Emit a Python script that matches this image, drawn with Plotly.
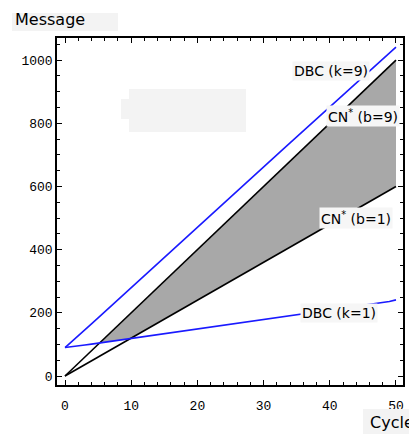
import numpy as np
import plotly.graph_objects as go

# ---- data ----
cycles = list(range(0, 51))
cn_b9 = [0, 20, 40, 60, 80, 100, 120, 140, 160, 180, 200, 220, 240, 260, 280, 300, 320, 340, 360, 380,
         400, 420, 440, 460, 480, 500, 520, 540, 560, 580, 600, 620, 640, 660, 680, 700, 720, 740, 760, 780,
         800, 820, 840, 860, 880, 900, 920, 940, 960, 980, 1000]
cn_b1 = [0, 12, 24, 36, 48, 60, 72, 84, 96, 108, 120, 132, 144, 156, 168, 180, 192, 204, 216, 228,
         240, 252, 264, 276, 288, 300, 312, 324, 336, 348, 360, 372, 384, 396, 408, 420, 432, 444, 456, 468,
         480, 492, 504, 516, 528, 540, 552, 564, 576, 588, 600]
dbc_k9 = [90, 108, 127, 146, 165, 184, 203, 222, 241, 260, 280, 299, 318, 337, 356, 375, 394, 413, 432, 451,
          471, 490, 509, 528, 547, 566, 585, 604, 623, 642, 662, 681, 700, 719, 738, 757, 776, 795, 814, 833,
          852, 871, 890, 909, 928, 947, 966, 985, 1004, 1023, 1041]
dbc_k1 = [90, 92, 95, 98, 101, 104, 107, 110, 113, 116, 119, 122, 125, 128, 131, 134, 137, 140, 143, 146,
          149, 152, 155, 158, 161, 164, 167, 170, 173, 176, 179, 182, 185, 188, 191, 194, 197, 200, 203, 206,
          209, 212, 215, 218, 221, 224, 227, 230, 233, 236, 241]
x_ticks = [0, 10, 20, 30, 40, 50]
y_ticks = [0, 200, 400, 600, 800, 1000]

# page body has an 8px margin: size the figure to the remaining space
OFF = 8
W, H = 417 - OFF, 434 - OFF
L, R, T, B = 57 - OFF, 403 - OFF, 38 - OFF, 385 - OFF


def px(x):
    return (x - OFF - L) / (R - L)


def py(y):
    return (B - (y - OFF)) / (B - T)


# ---- shaded region: between CN*(b=9) and max(CN*(b=1), DBC(k=1)) ----
xs = np.array(cycles, float)
up = np.array(cn_b9, float)
lo = np.maximum(np.array(cn_b1, float), np.array(dbc_k1, float))
d = up - lo
i = int(np.argmax(d > 0))
x0 = xs[i - 1] + (0 - d[i - 1]) / (d[i] - d[i - 1]) * (xs[i] - xs[i - 1])
y0 = lo[i - 1] + (lo[i] - lo[i - 1]) * (x0 - xs[i - 1]) / (xs[i] - xs[i - 1])
poly_x = [x0] + list(xs[i:]) + list(xs[i:][::-1]) + [x0]
poly_y = [y0] + list(up[i:]) + list(lo[i:][::-1]) + [y0]

fig = go.Figure()
fig.add_trace(go.Scatter(x=poly_x, y=poly_y, fill="toself", fillcolor="#a8a8a8",
                         line=dict(width=0), mode="lines", hoverinfo="skip", showlegend=False))
for ys, col in [(cn_b9, "black"), (cn_b1, "black"), (dbc_k9, "#1a1aff"), (dbc_k1, "#1a1aff")]:
    fig.add_trace(go.Scatter(x=cycles, y=ys, mode="lines", line=dict(color=col, width=1.6),
                             showlegend=False))

shapes = []
def box(x1, y1, x2, y2, color="#f3f3f3"):
    shapes.append(dict(type="rect", xref="paper", yref="paper", x0=px(x1), x1=px(x2),
                       y0=py(y2), y1=py(y1), fillcolor=color, line=dict(width=0), layer="above"))

box(12, 13, 118, 31)
box(363, 409, 417, 434)
box(129, 89, 246, 132)
box(121, 99, 129, 119)

annots = []
def lab(text, x, y, size=14, bg="#f6f6f6"):
    annots.append(dict(text=text, xref="paper", yref="paper", x=px(x), y=py(y), showarrow=False,
                       xanchor="center", yanchor="middle", bgcolor=bg, borderpad=1,
                       font=dict(family="DejaVu Sans", size=size, color="black")))

lab("DBC (k=9)", 331, 71)
lab("CN<sup>*</sup> (b=9)", 363, 116)
lab("CN<sup>*</sup> (b=1)", 356, 218)
lab("DBC (k=1)", 339, 313)
lab("Message", 50, 20, size=16, bg="rgba(0,0,0,0)")
lab("Cycle", 392, 422, size=16, bg="rgba(0,0,0,0)")

axis_common = dict(showline=True, linecolor="black", linewidth=1.5, mirror="allticks",
                   ticks="inside", ticklen=5, tickwidth=1.2, tickcolor="black",
                   showgrid=False, zeroline=False,
                   tickfont=dict(family="Liberation Mono", size=13, color="black"))

fig.update_layout(
    width=W, height=H,
    margin=dict(l=L, r=W - R, t=T, b=H - B),
    paper_bgcolor="white", plot_bgcolor="white",
    xaxis=dict(range=[-1.21, 51.06], tickvals=x_ticks,
               minor=dict(dtick=2, ticks="inside", ticklen=3, tickcolor="black", tickwidth=1),
               ticklabelstandoff=8, **axis_common),
    yaxis=dict(range=[-28.5, 1070], tickvals=y_ticks,
               minor=dict(dtick=50, ticks="inside", ticklen=3, tickcolor="black", tickwidth=1),
               **axis_common),
    shapes=shapes, annotations=annots,
)
fig.write_html("out.html")
